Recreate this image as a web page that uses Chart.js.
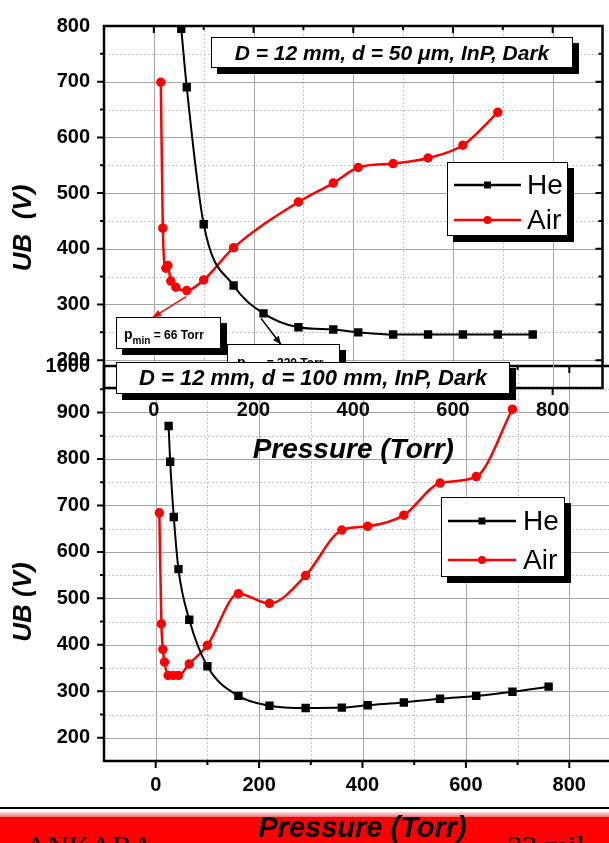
<!DOCTYPE html>
<html>
<head>
<meta charset="utf-8">
<script src="https://cdn.jsdelivr.net/npm/chart.js@4.4.1/dist/chart.umd.min.js"></script>
<style>
  body { margin: 0; background: #fff; }
  #page { position: relative; width: 609px; height: 843px; overflow: hidden; background: #fff; }
  #page canvas, #page div { position: absolute; }
  .foot { font-family: 'Liberation Serif', 'Times New Roman', serif; font-size: 30px; line-height: 30px; color: #000; white-space: nowrap; }
  #title100 { left: 116px; top: 362px; width: 392px; height: 30px; border: 1px solid #000; background: #fff;
    box-shadow: 6px 6px 0 #000; font: italic bold 22px 'Liberation Sans', Arial, sans-serif; line-height: 30px; text-align: center; }
</style>
</head>
<body>
<div id="page">
  <div style="left:0;top:807px;width:609px;height:2px;background:#000"></div>
  <div style="left:0;top:812px;width:609px;height:5px;background:linear-gradient(#fbe0e0,#f07070)"></div>
  <div style="left:0;top:817px;width:609px;height:26px;background:#ff0000"></div>
  <div class="foot" style="left:25px;top:831px">ANKARA</div>
  <div class="foot" style="left:507px;top:831px">23 mil</div>
  <canvas id="chart100" width="640" height="503" style="left:0;top:340px"></canvas>
  <canvas id="chart50" width="609" height="464" style="left:0;top:0"></canvas>
  <div id="title100">D = 12 mm, d = 100 mm, InP, Dark</div>
</div>
<script>
var FONT = "'Liberation Sans', Arial, sans-serif";

// tick labels
var xTicks = [0, 200, 400, 600, 800];
var yTicks50 = [200, 300, 400, 500, 600, 700, 800];
var yTicks100 = [200, 300, 400, 500, 600, 700, 800, 900, 1000];

// top panel: D = 12 mm, d = 50 um
var heP50 = [55, 66, 100, 160, 220, 290, 360, 410, 480, 550, 620, 690, 760];
var heU50 = [795, 690, 444, 334, 284, 259, 255, 250, 246, 246, 246, 246, 246];
var airP50 = [14, 18, 24, 28, 34, 44, 66, 100, 160, 290, 360, 410, 480, 550, 620, 690];
var airU50 = [699, 437, 365, 370, 342, 331, 325, 344, 402, 484, 518, 546, 553, 563, 586, 645];

// bottom panel: D = 12 mm, d = 100 mm
var heP100 = [25, 28, 35, 44, 65, 100, 160, 220, 290, 360, 410, 480, 550, 620, 690, 760];
var heU100 = [871, 794, 675, 563, 454, 354, 290, 269, 264, 265, 270, 276, 284, 290, 299, 310];
var airP100 = [7, 11, 14, 17, 24, 34, 44, 65, 100, 160, 220, 290, 360, 410, 480, 550, 620, 690];
var airU100 = [684, 445, 390, 363, 334, 334, 334, 359, 399, 510, 489, 549, 647, 655, 679, 748, 762, 907];

function pts(xs, ys) {
  return xs.map(function (x, i) { return { x: x, y: ys[i] }; });
}

function heSet(xs, ys) {
  return { label: 'He', data: pts(xs, ys), borderColor: '#000', backgroundColor: '#000', borderWidth: 2,
    pointStyle: 'rect', pointRadius: 4.5, cubicInterpolationMode: 'monotone' };
}
function airSet(xs, ys) {
  return { label: 'Air', data: pts(xs, ys), borderColor: '#ff0000', backgroundColor: '#ff0000', borderWidth: 2.5,
    pointStyle: 'circle', pointRadius: 3.5, cubicInterpolationMode: 'monotone' };
}

function drawBox(ctx, x, y, w, h) {
  ctx.fillStyle = '#000';
  ctx.fillRect(x + 6, y + 6, w, h);
  ctx.fillStyle = '#fff';
  ctx.fillRect(x, y, w, h);
  ctx.strokeStyle = '#000';
  ctx.lineWidth = 1;
  ctx.setLineDash([]);
  ctx.strokeRect(x + 0.5, y + 0.5, w - 1, h - 1);
}

function drawLegend(ctx, bx, by, bw, bh, lx1, lx2, tx, rows) {
  drawBox(ctx, bx, by, bw, bh);
  rows.forEach(function (r) {
    ctx.strokeStyle = r.color; ctx.fillStyle = r.color; ctx.lineWidth = 2.5;
    ctx.beginPath(); ctx.moveTo(lx1, r.y); ctx.lineTo(lx2, r.y); ctx.stroke();
    var mx = (lx1 + lx2) / 2;
    ctx.beginPath();
    if (r.square) ctx.rect(mx - 3.5, r.y - 3.5, 7, 7);
    else ctx.arc(mx, r.y, 4, 0, Math.PI * 2);
    ctx.fill();
    ctx.fillStyle = '#000';
    ctx.font = '28px ' + FONT;
    ctx.textAlign = 'left'; ctx.textBaseline = 'middle';
    ctx.fillText(r.text, tx, r.y + 1);
  });
}

function drawArrow(ctx, x1, y1, x2, y2, color) {
  ctx.strokeStyle = color; ctx.fillStyle = color; ctx.lineWidth = 1.5;
  ctx.beginPath(); ctx.moveTo(x1, y1); ctx.lineTo(x2, y2); ctx.stroke();
  var a = Math.atan2(y2 - y1, x2 - x1), L = 9;
  ctx.beginPath();
  ctx.moveTo(x2, y2);
  ctx.lineTo(x2 - L * Math.cos(a - 0.4), y2 - L * Math.sin(a - 0.4));
  ctx.lineTo(x2 - L * Math.cos(a + 0.4), y2 - L * Math.sin(a + 0.4));
  ctx.closePath(); ctx.fill();
}

function pminLabel(ctx, x, y, value) {
  ctx.fillStyle = '#000'; ctx.textAlign = 'left'; ctx.textBaseline = 'alphabetic';
  ctx.font = 'bold 14px ' + FONT;
  ctx.fillText('p', x, y);
  x += ctx.measureText('p').width;
  ctx.font = 'bold 10px ' + FONT;
  ctx.fillText('min', x, y + 5);
  x += ctx.measureText('min').width;
  ctx.font = 'bold 12px ' + FONT;
  ctx.fillText(' = ' + value + ' Torr', x, y);
}

function yTitle(ctx, text, cx, cy) {
  ctx.save();
  ctx.translate(cx, cy);
  ctx.rotate(-Math.PI / 2);
  ctx.fillStyle = '#000';
  ctx.font = 'italic bold 26px ' + FONT;
  ctx.textAlign = 'center'; ctx.textBaseline = 'middle';
  ctx.fillText(text, 0, 0);
  ctx.restore();
}

function framePlugin(extra) {
  return {
    id: 'frame',
    beforeDatasetsDraw: function (chart) {
      var ctx = chart.ctx, a = chart.chartArea, xs = chart.scales.x, ys = chart.scales.y;
      ctx.save();
      ctx.lineWidth = 1;
      for (var v = xs.min + 100; v < xs.max; v += 100) {
        var px = Math.round(xs.getPixelForValue(v)) + 0.5;
        var major = v % 200 === 0;
        ctx.strokeStyle = major ? '#a6a6a6' : '#c4c4c4';
        ctx.setLineDash(major ? [] : [2, 2]);
        ctx.beginPath(); ctx.moveTo(px, a.top); ctx.lineTo(px, a.bottom); ctx.stroke();
      }
      for (var w = ys.min + 50; w < ys.max; w += 50) {
        var py = Math.round(ys.getPixelForValue(w)) + 0.5;
        var maj = w % 100 === 0;
        ctx.strokeStyle = maj ? '#a6a6a6' : '#c4c4c4';
        ctx.setLineDash(maj ? [] : [2, 2]);
        ctx.beginPath(); ctx.moveTo(a.left, py); ctx.lineTo(a.right, py); ctx.stroke();
      }
      ctx.restore();
    },
    afterDatasetsDraw: function (chart) {
      var ctx = chart.ctx, a = chart.chartArea, xs = chart.scales.x, ys = chart.scales.y;
      ctx.save();
      ctx.setLineDash([]);
      ctx.strokeStyle = '#000';
      ctx.lineWidth = 2.5;
      ctx.strokeRect(a.left, a.top, a.right - a.left, a.bottom - a.top);
      ctx.lineWidth = 2;
      ctx.beginPath();
      for (var v = xs.min + 100; v < xs.max; v += 100) {
        var px = xs.getPixelForValue(v), len = v % 200 === 0 ? 7 : 4;
        ctx.moveTo(px, a.bottom); ctx.lineTo(px, a.bottom + len);
        ctx.moveTo(px, a.top); ctx.lineTo(px, a.top + len);
      }
      for (var w = ys.min + 50; w < ys.max; w += 50) {
        var py = ys.getPixelForValue(w), l2 = w % 100 === 0 ? 7 : 4;
        ctx.moveTo(a.left, py); ctx.lineTo(a.left - l2, py);
        ctx.moveTo(a.right, py); ctx.lineTo(a.right - l2, py);
      }
      ctx.stroke();
      if (extra) extra(chart, ctx);
      ctx.restore();
    }
  };
}

function plain(v) { return String(v); }

function panelOptions(o) {
  return {
    responsive: false,
    animation: false,
    layout: { padding: { top: o.top, right: o.right, bottom: 0, left: 0 } },
    plugins: { legend: { display: false }, tooltip: { enabled: false } },
    scales: {
      x: {
        type: 'linear', min: -100, max: 900,
        afterBuildTicks: function (s) { s.ticks = xTicks.map(function (v) { return { value: v }; }); },
        afterFit: function (s) { s.height = o.xHeight; },
        grid: { display: false, drawTicks: false }, border: { display: false },
        ticks: { font: { family: FONT, size: 20, weight: 'bold' }, color: '#000', padding: o.xPad, maxRotation: 0,
          autoSkip: false, callback: plain },
        title: { display: true, text: 'Pressure (Torr)', color: '#000', padding: 0,
          font: { family: FONT, size: o.titleSize, weight: 'bold', style: 'italic', lineHeight: 1 } }
      },
      y: {
        type: 'linear', min: 150, max: o.yMax,
        afterBuildTicks: function (s) { s.ticks = o.yTicks.map(function (v) { return { value: v }; }); },
        afterFit: function (s) { s.width = 104; },
        grid: { display: false, drawTicks: false }, border: { display: false },
        ticks: { font: { family: FONT, size: 20, weight: 'bold' }, color: '#000', padding: 14, autoSkip: false, callback: plain }
      }
    }
  };
}

new Chart(document.getElementById('chart100').getContext('2d'), {
  type: 'line',
  data: { datasets: [heSet(heP100, heU100), airSet(airP100, airU100)] },
  options: panelOptions({ top: 22, right: 19, xHeight: 82, xPad: 12, titleSize: 29, yMax: 1000, yTicks: yTicks100 }),
  plugins: [framePlugin(function (chart, ctx) {
    drawLegend(ctx, 441, 157, 124, 80, 448, 516, 523, [
      { y: 181, text: 'He', color: '#000', square: true },
      { y: 220, text: 'Air', color: '#ff0000', square: false }
    ]);
    yTitle(ctx, 'UB (V)', 24, 262);
  })]
});

new Chart(document.getElementById('chart50').getContext('2d'), {
  type: 'line',
  data: { datasets: [heSet(heP50, heU50), airSet(airP50, airU50)] },
  options: panelOptions({ top: 20, right: 4.5, xHeight: 76, xPad: 10, titleSize: 28, yMax: 800, yTicks: yTicks50 }),
  plugins: [framePlugin(function (chart, ctx) {
    var xs = chart.scales.x, ys = chart.scales.y;
    drawBox(ctx, 211, 37, 362, 31);
    ctx.fillStyle = '#000';
    ctx.font = 'italic bold 21px ' + FONT;
    ctx.textAlign = 'center'; ctx.textBaseline = 'middle';
    ctx.fillText('D = 12 mm, d = 50 \u03bcm, InP, Dark', 392, 54);

    drawLegend(ctx, 447, 162, 121, 74, 454, 521, 527, [
      { y: 185, text: 'He', color: '#000', square: true },
      { y: 220, text: 'Air', color: '#ff0000', square: false }
    ]);

    drawArrow(ctx, xs.getPixelForValue(65), ys.getPixelForValue(314), xs.getPixelForValue(-2), ys.getPixelForValue(277), '#ff0000');
    drawArrow(ctx, xs.getPixelForValue(215), ys.getPixelForValue(275), xs.getPixelForValue(255), ys.getPixelForValue(228), '#000');

    drawBox(ctx, 116, 317, 105, 32);
    pminLabel(ctx, 124, 339, 66);
    drawBox(ctx, 227, 344, 113, 36);
    pminLabel(ctx, 237, 367, 220);

    yTitle(ctx, 'UB  (V)', 24, 228);
  })]
});
</script>
</body>
</html>
